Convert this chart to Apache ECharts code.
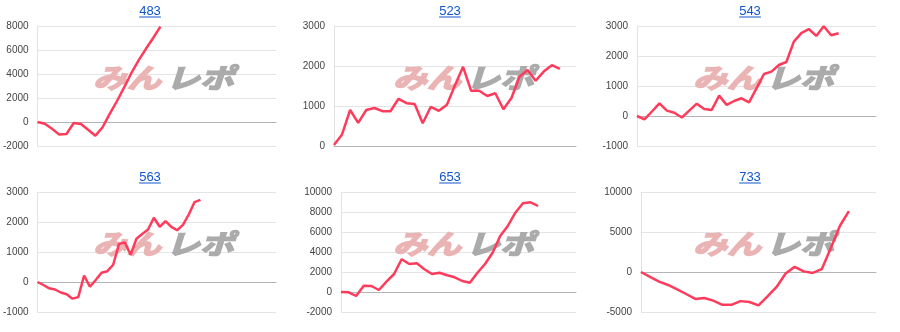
<!DOCTYPE html>
<html>
<head>
<meta charset="utf-8">
<script src="https://cdn.jsdelivr.net/npm/echarts@6/dist/echarts.min.js"></script>
<style>
html,body{margin:0;padding:0;background:#fff;}
#chart{width:900px;height:332px;}
</style>
</head>
<body>
<div id="chart"></div>
<script>
// ---- data ----
const titles = ['483', '523', '543', '563', '653', '733'];
const categoryCounts = [34, 31, 33, 42, 32, 27];
const s483 = [0, -150, -560, -1050, -1000, -80, -170, -640, -1140, -440, 700, 1750, 2900, 4100, 5150, 6100, 7000, 7950];
const s523 = [25, 290, 900, 580, 900, 950, 870, 870, 1180, 1070, 1050, 570, 980, 880, 1030, 1520, 1980, 1380, 1380, 1250, 1320, 920, 1200, 1730, 1900, 1630, 1860, 2020, 1930];
const s543 = [0, -110, 150, 420, 180, 110, -50, 180, 410, 230, 200, 680, 370, 500, 590, 455, 920, 1400, 1480, 1700, 1800, 2480, 2760, 2900, 2670, 2990, 2690, 2760];
const s563 = [0, -100, -210, -250, -350, -410, -555, -505, 215, -160, 65, 310, 360, 575, 1265, 1320, 910, 1440, 1600, 1750, 2140, 1840, 2030, 1840, 1725, 1905, 2250, 2665, 2740];
const s653 = [0, -30, -400, 630, 600, 200, 1030, 1800, 3270, 2800, 2870, 2270, 1800, 1930, 1670, 1470, 1100, 930, 1930, 2800, 3930, 5600, 6600, 7930, 8870, 8970, 8600];
const s733 = [0, -620, -1200, -1620, -2170, -2750, -3370, -3250, -3580, -4100, -4100, -3640, -3750, -4180, -3060, -1870, -190, 640, 80, -120, 350, 3000, 5750, 7620];
const yMin = [-2000, 0, -1000, -1000, -2000, -5000];
const yMax = [8000, 3000, 3000, 3000, 10000, 10000];
const yStep = [2000, 1000, 1000, 1000, 2000, 5000];
const seriesList = [s483, s523, s543, s563, s653, s733];
const watermarkA = 'みん';
const watermarkB = 'レポ';

// ---- layout ----
const PANEL_W = 300, PANEL_H = 166;
const gridLeft = [37, 34, 37, 37, 41, 41];
const LINE_COLOR = '#ff3b5c';
const TITLE_COLOR = '#1155cc';
const FONT = 'Arial, "Liberation Sans", sans-serif';

const chart = echarts.init(document.getElementById('chart'), null, {renderer: 'canvas'});

const measure = (() => {
  const c = document.createElement('canvas').getContext('2d');
  return (txt, font) => { c.font = font; return c.measureText(txt).width; };
})();

const grids = [], xAxes = [], yAxes = [], series = [], title = [], graphic = [];
titles.forEach((t, i) => {
  const col = i % 3, row = Math.floor(i / 3);
  const ox = col * PANEL_W, oy = row * PANEL_H;
  const left = ox + gridLeft[i];
  grids.push({left: left, top: oy + 26, width: ox + 276 - left, height: 120, containLabel: false});
  xAxes.push({
    type: 'category', gridIndex: i, boundaryGap: false,
    data: Array.from({length: categoryCounts[i]}, (_, k) => String(k + 1)),
    axisLabel: {show: false}, axisTick: {show: false},
    axisLine: {show: true, onZero: true, lineStyle: {color: '#b4b4b4', width: 1}},
    splitLine: {show: false}
  });
  yAxes.push({
    type: 'value', gridIndex: i, min: yMin[i], max: yMax[i], interval: yStep[i],
    axisLine: {show: true, lineStyle: {color: '#e2e2e2'}}, axisTick: {show: false},
    axisLabel: {color: '#444', fontSize: 10, fontFamily: FONT, margin: 9, formatter: v => String(v)},
    splitLine: {lineStyle: {color: '#e4e4e4', width: 1}}
  });
  series.push({
    type: 'line', xAxisIndex: i, yAxisIndex: i, data: seriesList[i],
    symbol: 'none', smooth: false, z: 5,
    lineStyle: {color: LINE_COLOR, width: 2.5}
  });
  const tFont = '13px ' + FONT;
  title.push({
    text: t, left: ox + 150, top: oy + 5, textAlign: 'center', padding: 0,
    textStyle: {color: TITLE_COLOR, fontSize: 13, fontWeight: 'normal', fontFamily: FONT, lineHeight: 13}
  });
  const tw = measure(t, tFont);
  graphic.push({type: 'rect', shape: {x: ox + 150 - tw / 2, y: oy + 16.5, width: tw, height: 1}, style: {fill: TITLE_COLOR}, z: 10, silent: true});
  // watermark
  graphic.push({
    type: 'text', x: ox + 93, y: oy + 78, scaleX: 1.26, z: 1, silent: true,
    style: {text: watermarkA, fill: '#ebb4b4', stroke: '#ebb4b4', lineWidth: 1.6, font: 'italic bold 27px "Noto Sans CJK JP"', textVerticalAlign: 'middle', verticalAlign: 'middle'}
  });
  graphic.push({
    type: 'text', x: ox + 166, y: oy + 78, scaleX: 1.26, z: 1, silent: true,
    style: {text: watermarkB, fill: '#ababab', stroke: '#ababab', lineWidth: 1.6, font: 'italic bold 27px "Noto Sans CJK JP"', textVerticalAlign: 'middle', verticalAlign: 'middle'}
  });
});

chart.setOption({
  animation: false,
  backgroundColor: '#fff',
  title: title, grid: grids, xAxis: xAxes, yAxis: yAxes, series: series, graphic: graphic
});
</script>
</body>
</html>
